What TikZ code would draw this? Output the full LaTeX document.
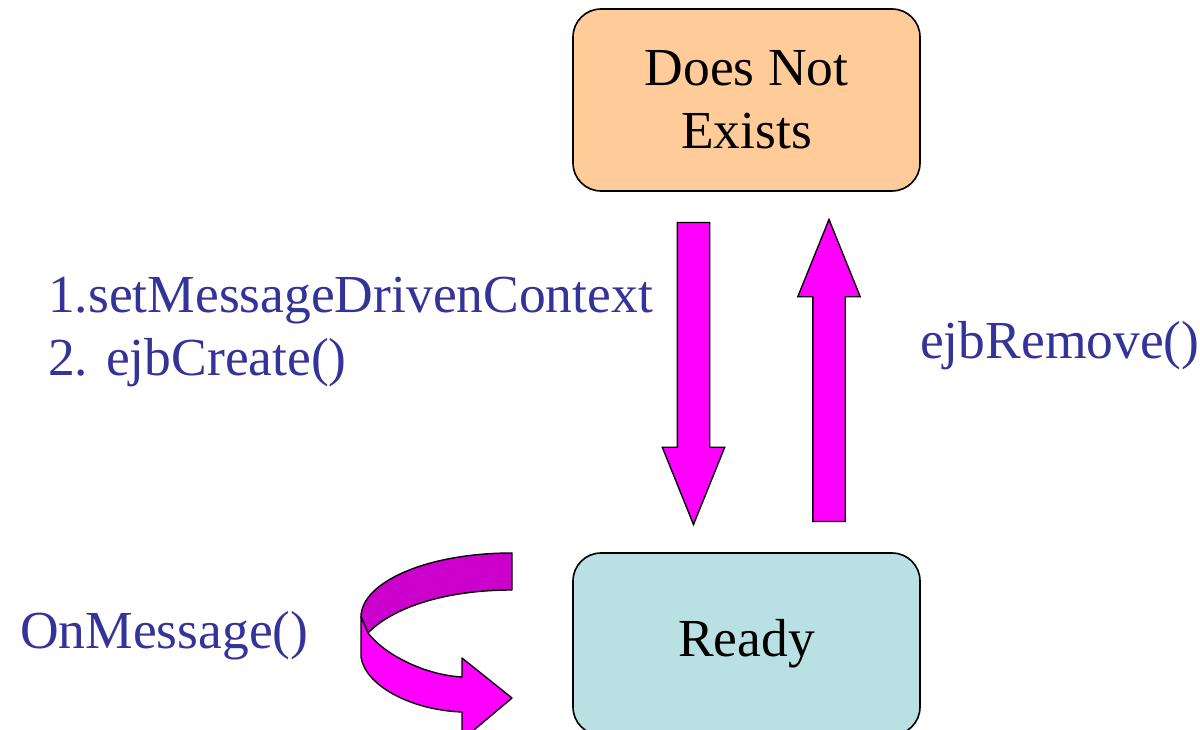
\documentclass[tikz,border=0pt]{standalone}
\usepackage{fontspec}
\setmainfont{Liberation Serif}
\usetikzlibrary{shapes.arrows,calc}

\definecolor{peach}{RGB}{255,204,153}
\definecolor{paleblue}{RGB}{185,224,227}
\definecolor{labelblue}{RGB}{51,51,153}
\definecolor{plum}{RGB}{204,0,204}
\definecolor{fuchsia}{RGB}{255,0,255}

\begin{document}
\begin{tikzpicture}[x=1pt,y=-1pt]
	\tikzstyle{every node}=[font=\fontsize{53.5}{63}\selectfont]
	\tikzstyle{state}=[draw,line width=1.6pt,rounded corners=28pt,
	minimum width=347pt,minimum height=182pt,align=center]
	\tikzstyle{lbl}=[text=labelblue,inner sep=0pt,align=left]
	\tikzstyle{bigarrow}=[single arrow,draw,line width=1.4pt,fill=fuchsia,
	inner sep=15.5pt,single arrow head extend=15pt,
	single arrow tip angle=44,minimum height=302pt,anchor=tail]
	\clip (0,0) rectangle (1200,730);
	% the two states
	\node[state,fill=peach] (dne) at (746.5,100) {Does Not\\Exists};
	\node[state,fill=paleblue] (ready) at (746.5,644) {Ready};
	% transitions between them
	\node[bigarrow,shape border rotate=270] (create)
	at ([xshift=-53pt,yshift=-30pt]dne.south) {};
	\node[bigarrow,shape border rotate=90] (remove)
	at ([xshift=82.5pt,yshift=30pt]ready.north) {};
	% labels
	\node[lbl,anchor=base west] (initlbl) at (48,375) {1.setMessageDrivenContext\\2. ejbCreate()};
	\node[lbl,anchor=base west] (removelbl) at (920,358) {ejbRemove()};
	\node[lbl,anchor=base west] (msglbl) at (20,648) {OnMessage()};
	% the turning arrow, back half first
	\draw[line width=1.4pt,line join=round,fill=plum]
	(512,553) .. controls (425,553) and (361,583) .. (361,617)
	-- (368,633) .. controls (390,610) and (440,590) .. (512,590) -- cycle;
	\draw[line width=1.4pt,line join=round,fill=fuchsia]
	(361,617) -- (361,657) .. controls (365,685) and (410,710) .. (462,712)
	-- (462,740) -- (512,698) -- (462,658) -- (462,677)
	.. controls (425,675) and (385,655) .. (368,633) -- cycle;
\end{tikzpicture}
\end{document}
